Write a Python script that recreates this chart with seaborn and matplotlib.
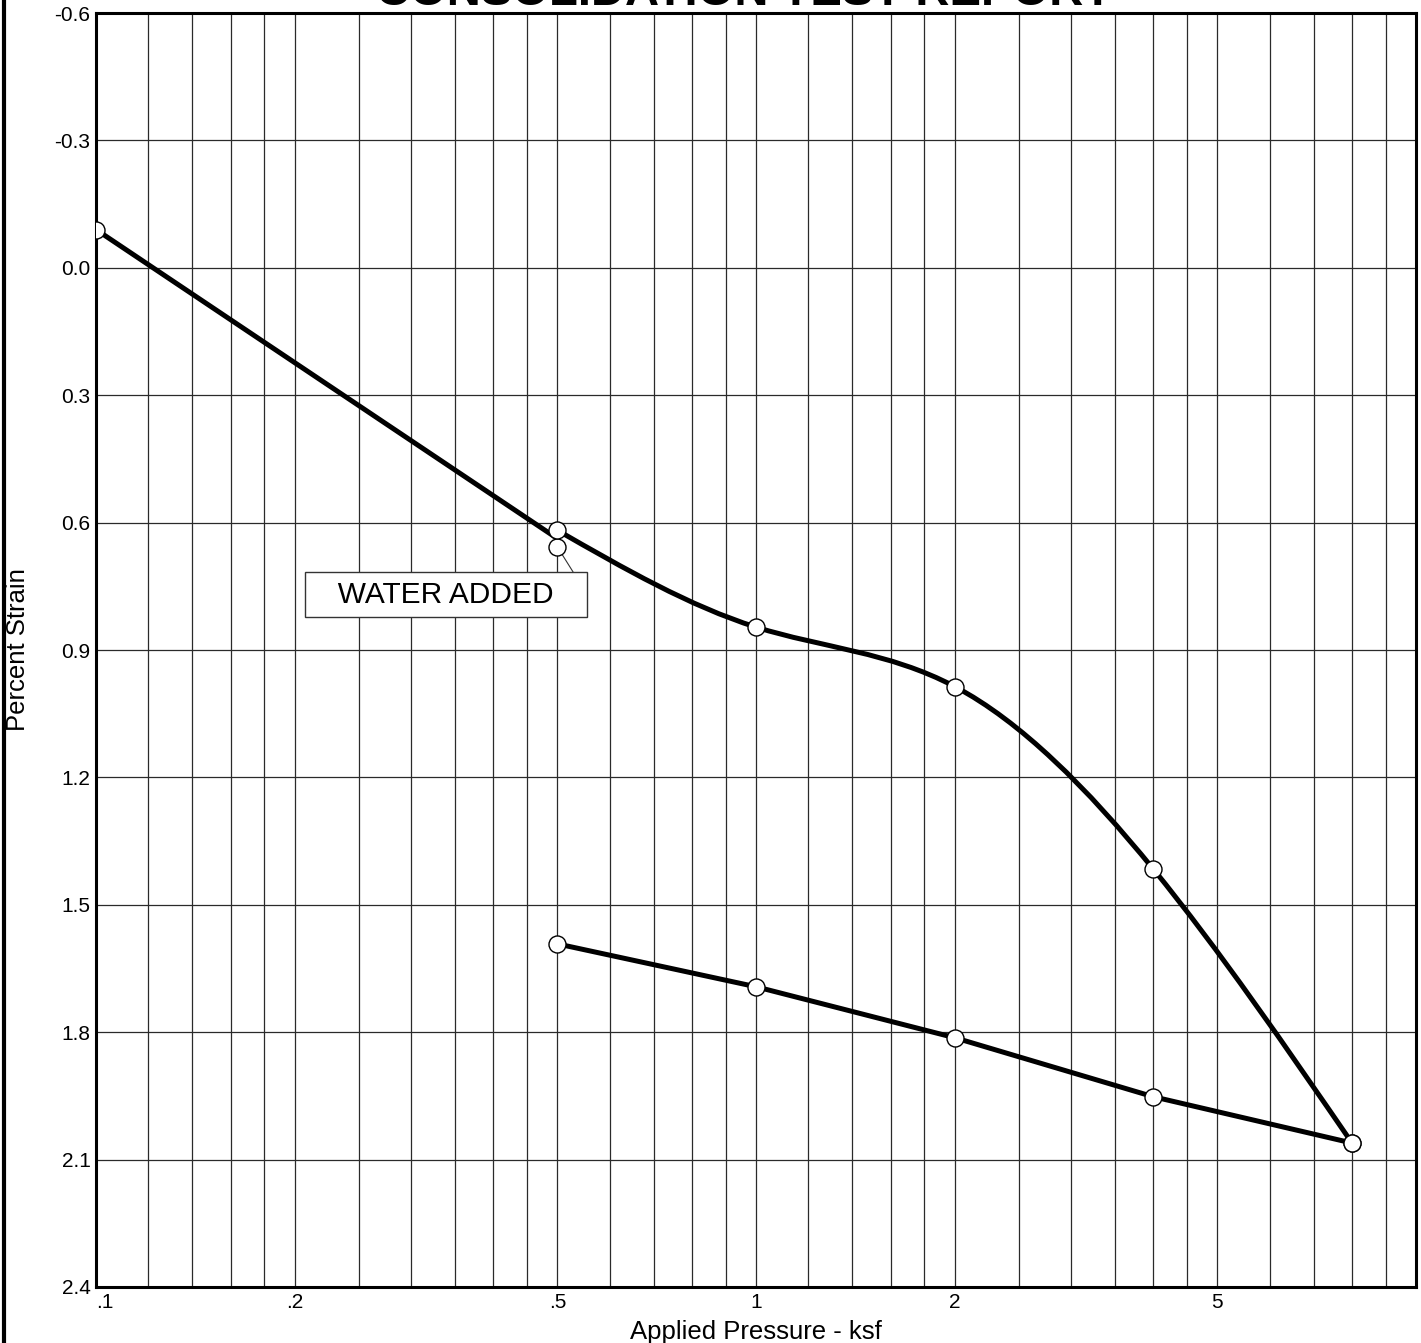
import numpy as np
import pandas as pd
import matplotlib
matplotlib.use("Agg")
import matplotlib.pyplot as plt
import seaborn as sns
from matplotlib.path import Path
from matplotlib.patches import PathPatch
from matplotlib.lines import Line2D
from matplotlib.ticker import FixedLocator, FixedFormatter, NullFormatter

# Consolidation test readings: applied pressure (ksf) vs percent strain
seat_pressure = [0.1, 0.5]
seat_strain = [-0.09, 0.657]
load_pressure = [0.5, 1, 2, 4, 8]
load_strain = [0.618, 0.846, 0.986, 1.416, 2.061]
rebound_pressure = [8, 4, 2, 1, 0.5]
rebound_strain = [2.061, 1.952, 1.813, 1.693, 1.592]

x_tick_values = [0.1, 0.2, 0.5, 1, 2, 5]
x_tick_labels = [".1", ".2", ".5", "1", "2", "5"]
y_tick_values = [-0.6, -0.3, 0.0, 0.3, 0.6, 0.9, 1.2, 1.5, 1.8, 2.1, 2.4]
y_tick_labels = ["-0.6", "-0.3", "0.0", "0.3", "0.6", "0.9", "1.2", "1.5", "1.8", "2.1", "2.4"]
grid_steps = [1, 1.2, 1.4, 1.6, 1.8, 2, 2.5, 3, 3.5, 4, 4.5, 5, 6, 7, 8, 9]
decades = [0.1, 1]

sns.set_theme(style="white")
plt.rcParams["font.family"] = ["Liberation Sans", "DejaVu Sans"]


def smooth_log_path(xs, ys):
    """Natural cubic spline through the points in log10(x) space, as Bezier segments."""
    t = np.log10(np.asarray(xs, float))
    y = np.asarray(ys, float)
    n = len(t)
    h = np.diff(t)
    A = np.zeros((n, n))
    rhs = np.zeros(n)
    A[0, 0] = A[-1, -1] = 1.0
    for i in range(1, n - 1):
        A[i, i - 1] = h[i - 1]
        A[i, i] = 2 * (h[i - 1] + h[i])
        A[i, i + 1] = h[i]
        rhs[i] = 6 * ((y[i + 1] - y[i]) / h[i] - (y[i] - y[i - 1]) / h[i - 1])
    M = np.linalg.solve(A, rhs)
    verts = [(xs[0], y[0])]
    codes = [Path.MOVETO]
    for i in range(n - 1):
        chord = (y[i + 1] - y[i]) / h[i]
        s0 = chord - h[i] * (2 * M[i] + M[i + 1]) / 6
        s1 = chord + h[i] * (M[i] + 2 * M[i + 1]) / 6
        verts.append((10 ** (t[i] + h[i] / 3), y[i] + s0 * h[i] / 3))
        verts.append((10 ** (t[i + 1] - h[i] / 3), y[i + 1] - s1 * h[i] / 3))
        verts.append((xs[i + 1], y[i + 1]))
        codes += [Path.CURVE4] * 3
    return Path(verts, codes)


fig = plt.figure(figsize=(14.21, 13.43), dpi=100)
ax = fig.add_axes([96 / 1421, 1 - 1287 / 1343, 1320 / 1421, 1274 / 1343])

line_kw = dict(color="black", linewidth=3.6, sort=False, legend=False, zorder=3)

# seating load up to water addition, then the jump to the first loading reading
sns.lineplot(x=seat_pressure + [load_pressure[0]], y=seat_strain + [load_strain[0]], ax=ax, **line_kw)
# loading curve (smoothed)
ax.add_patch(PathPatch(smooth_log_path(load_pressure, load_strain), facecolor="none",
                       edgecolor="black", linewidth=3.6, capstyle="round",
                       joinstyle="round", zorder=3))
# rebound
sns.lineplot(x=rebound_pressure, y=rebound_strain, ax=ax, **line_kw)

points = pd.DataFrame({
    "pressure": seat_pressure + load_pressure + rebound_pressure,
    "strain": seat_strain + load_strain + rebound_strain,
})
sns.scatterplot(data=points, x="pressure", y="strain", ax=ax, s=150, color="white",
                edgecolor="black", linewidth=1.0, zorder=5, legend=False)

ax.set_xscale("log")
ax.set_xlim(0.1, 10)
ax.set_ylim(2.4, -0.6)

grid_positions = [d * s for d in decades for s in grid_steps] + [10]
ax.xaxis.set_major_locator(FixedLocator(x_tick_values))
ax.xaxis.set_major_formatter(FixedFormatter(x_tick_labels))
ax.xaxis.set_minor_locator(FixedLocator(grid_positions))
ax.xaxis.set_minor_formatter(NullFormatter())
ax.yaxis.set_major_locator(FixedLocator(y_tick_values))
ax.yaxis.set_major_formatter(FixedFormatter(y_tick_labels))

ax.grid(which="both", axis="x", color="#2a2a2a", linewidth=0.9)
ax.grid(which="major", axis="y", color="#2a2a2a", linewidth=0.9)
ax.set_axisbelow(True)
ax.tick_params(which="both", length=0, labelsize=15, colors="black")
ax.tick_params(axis="x", pad=4)
ax.tick_params(axis="y", pad=4)
ax.get_xticklabels()[0].set_horizontalalignment("left")

for sp in ax.spines.values():
    sp.set_color("black")
    sp.set_linewidth(2.2)

ax.set_xlabel("Applied Pressure - ksf", fontsize=18.5, color="black")
ax.xaxis.set_label_coords(0.5, -0.026)
ax.set_ylabel("Percent Strain", fontsize=18.5, color="black")
ax.yaxis.label.set_verticalalignment("center")
ax.yaxis.set_label_coords(-0.059, 0.5)

ax.annotate("   WATER ADDED   ", xy=(seat_pressure[1], seat_strain[1]), xytext=(0.339, 0.770),
            textcoords="data", ha="center", va="center", fontsize=21.5, color="black",
            bbox=dict(boxstyle="square,pad=0.28", fc="white", ec="#333333", lw=1.0),
            arrowprops=dict(arrowstyle="-", color="#333333", lw=0.8, relpos=(1, 1),
                            shrinkA=0, shrinkB=4),
            zorder=4)

fig.add_artist(Line2D([4 / 1421, 4 / 1421], [0, 1], transform=fig.transFigure,
                      color="black", linewidth=3.0))
fig.text(0.524, 1 - 5 / 1343, "CONSOLIDATION TEST REPORT", ha="center", va="baseline",
         fontsize=34, fontweight="bold", color="black")

fig.savefig("out.png", dpi=100)
